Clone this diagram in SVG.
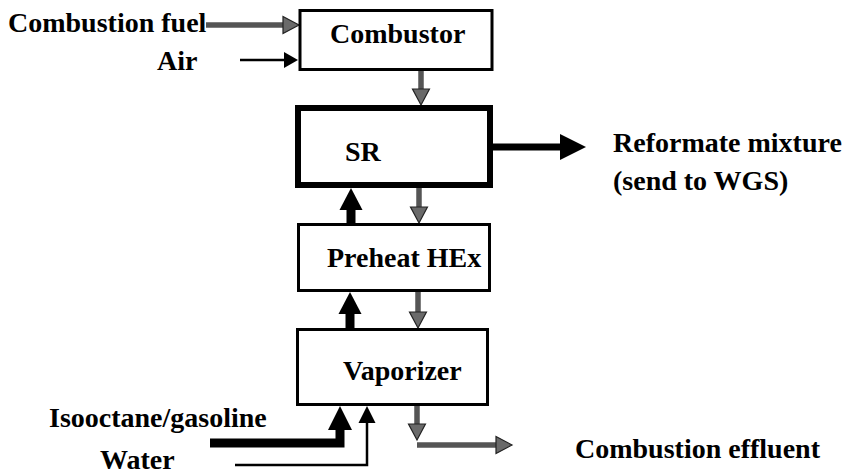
<svg xmlns="http://www.w3.org/2000/svg" width="847" height="474" viewBox="0 0 847 474">
<style>
  .lbl { font-family: "Liberation Serif", "Times New Roman", serif; font-weight: bold; font-size: 28px; fill: #000; }
  .box { fill: #fff; stroke: #000; stroke-width: 3; }
  .box-thick { fill: #fff; stroke: #000; stroke-width: 6; }
  .gray { fill: none; stroke: #555; stroke-width: 5.5; }
  .thin { fill: none; stroke: #000; stroke-width: 2.5; }
  .fat { fill: none; stroke: #000; stroke-width: 9; }
  .out { fill: none; stroke: #000; stroke-width: 7; }
</style>
<defs>
  <marker id="hGray" markerUnits="userSpaceOnUse" markerWidth="17" markerHeight="18" refX="0" refY="8.5" orient="auto" overflow="visible">
    <path d="M0,0 L16,8.5 L0,17 z" fill="#6a6a6a" stroke="#222" stroke-width="1.2"/>
  </marker>
  <marker id="hSmall" markerUnits="userSpaceOnUse" markerWidth="15" markerHeight="17" refX="0" refY="8" orient="auto" overflow="visible">
    <path d="M0,0 L14,8 L0,16 z" fill="#000"/>
  </marker>
  <marker id="hWater" markerUnits="userSpaceOnUse" markerWidth="18" markerHeight="18" refX="0" refY="8.5" orient="auto" overflow="visible">
    <path d="M0,0 L17,8.5 L0,17 z" fill="#000"/>
  </marker>
  <marker id="hFat" markerUnits="userSpaceOnUse" markerWidth="23" markerHeight="24" refX="0" refY="11.5" orient="auto" overflow="visible">
    <path d="M0,0 L22,11.5 L0,23 z" fill="#000"/>
  </marker>
  <marker id="hIso" markerUnits="userSpaceOnUse" markerWidth="25" markerHeight="25" refX="0" refY="12" orient="auto" overflow="visible">
    <path d="M0,0 L24,12 L0,24 z" fill="#000"/>
  </marker>
  <marker id="hOut" markerUnits="userSpaceOnUse" markerWidth="27" markerHeight="27" refX="0" refY="13" orient="auto" overflow="visible">
    <path d="M0,0 L26,13 L0,26 z" fill="#000"/>
  </marker>
</defs>
<rect x="0" y="0" width="847" height="474" fill="#fff"/>

<g id="connectors">
  <line class="gray" x1="206" y1="25" x2="283" y2="25" marker-end="url(#hGray)"/>
  <line class="thin" x1="240" y1="60" x2="284" y2="60" marker-end="url(#hSmall)"/>
  <line class="gray" x1="421" y1="71" x2="421" y2="89" marker-end="url(#hGray)"/>
  <line class="out" x1="493" y1="147" x2="560" y2="147" marker-end="url(#hOut)"/>
  <line class="fat" x1="351" y1="223" x2="351" y2="210" marker-end="url(#hFat)"/>
  <line class="gray" x1="419" y1="188" x2="419" y2="207" marker-end="url(#hGray)"/>
  <line class="fat" x1="350" y1="328" x2="350" y2="314" marker-end="url(#hFat)"/>
  <line class="gray" x1="418" y1="292" x2="418" y2="312" marker-end="url(#hGray)"/>
  <polyline class="fat" points="210,443 340,443 340,430" marker-end="url(#hIso)"/>
  <polyline class="thin" points="235,465 367,465 367,423" marker-end="url(#hWater)"/>
  <line class="gray" x1="417" y1="406" x2="417" y2="424" marker-end="url(#hGray)"/>
  <line class="gray" x1="417" y1="445" x2="496" y2="445" marker-end="url(#hGray)"/>
</g>

<g id="combustor">
  <rect class="box" x="300" y="10.5" width="192" height="59"/>
  <text class="lbl" x="330" y="43">Combustor</text>
</g>
<g id="sr">
  <rect class="box-thick" x="298" y="108" width="192" height="77"/>
  <text class="lbl" x="345" y="161">SR</text>
</g>
<g id="preheat">
  <rect class="box" x="298.5" y="224.5" width="191" height="66"/>
  <text class="lbl" x="327" y="267">Preheat HEx</text>
</g>
<g id="vaporizer">
  <rect class="box" x="297.5" y="329.5" width="190" height="75"/>
  <text class="lbl" x="343" y="380">Vaporizer</text>
</g>

<g id="labels">
  <text class="lbl" x="8" y="32">Combustion fuel</text>
  <text class="lbl" x="157" y="70">Air</text>
  <text class="lbl" x="613" y="152">Reformate mixture</text>
  <text class="lbl" x="613" y="190">(send to WGS)</text>
  <text class="lbl" x="49" y="427">Isooctane/gasoline</text>
  <text class="lbl" x="100" y="469">Water</text>
  <text class="lbl" x="575" y="458">Combustion effluent</text>
</g>
</svg>
